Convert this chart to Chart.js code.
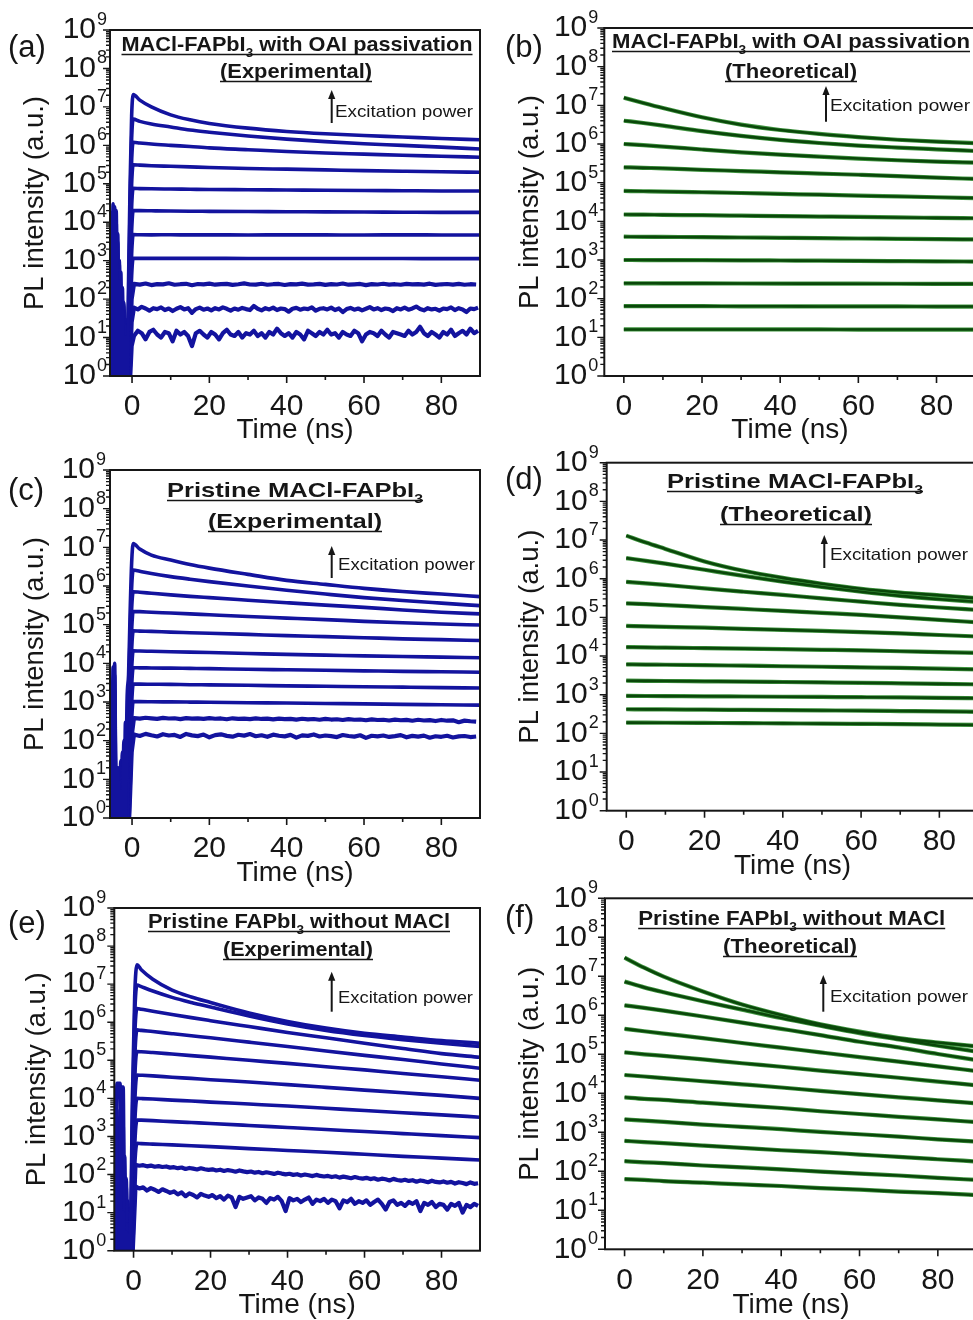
<!DOCTYPE html>
<html>
<head>
<meta charset="utf-8">
<script src="https://cdn.jsdelivr.net/npm/chart.js@4.4.1/dist/chart.umd.min.js"></script>
<style>
  html, body { margin: 0; padding: 0; background: #fff; overflow: hidden; }
  #figure { position: relative; width: 973px; height: 1320px; overflow: hidden; }
  #figure canvas { position: absolute; }
</style>
</head>
<body>
<div id="figure">
  <canvas id="panelA" width="490" height="450" style="left:0;top:0"></canvas>
  <canvas id="panelB" width="500" height="450" style="left:490px;top:0"></canvas>
  <canvas id="panelC" width="490" height="460" style="left:0;top:440px"></canvas>
  <canvas id="panelD" width="500" height="460" style="left:490px;top:440px"></canvas>
  <canvas id="panelE" width="490" height="440" style="left:0;top:880px"></canvas>
  <canvas id="panelF" width="500" height="440" style="left:490px;top:880px"></canvas>
</div>
<script>
// Axis ticks
const xTickValues = [0, 20, 40, 60, 80];
const yTickExponents = [0, 1, 2, 3, 4, 5, 6, 7, 8, 9];

// Time grids (ns)
const preTimesAC = [-5.7, -5.3, -4.9, -4.5, -4.1, -3.7, -3.3, -2.9, -2.5, -2.1, -1.7, -1.3, -0.9, -0.5, -0.1];
const preTimesE = [-5.5, -5.1, -4.7, -4.3, -3.9, -3.5, -3.1, -2.7, -2.3, -1.9, -1.5, -1.1, -0.7, -0.3, 0.3];
const decayTimesAC = [0.3, 2, 5, 10, 15, 20, 30, 40, 50, 60, 70, 80, 90];
const decayTimesE = [0.9, 2, 5, 10, 15, 20, 30, 40, 50, 60, 70, 80, 90];
const noiseTimes = Array.from({length: 60}, (_, i) => 0.5 + 1.5 * i);   // coarse sampling grid
const fineNoiseTimes = Array.from({length: 90}, (_, i) => 0.5 + i);     // 1 ns sampling grid
const theoryTimes = [0, 5, 10, 20, 30, 40, 50, 60, 70, 80, 90];

// (a) MACl-FAPbI3 with OAI passivation, experimental
const aPre = [
  [2e4, 0.5, 3e4, 0.4, 1e4, 0.5, 300, 0.4, 50, 0.5, 10, 0.6, 300, 1e5, 6e6],
  [0.5, 1e4, 0.4, 2.5e4, 0.5, 5e3, 0.4, 100, 0.5, 30, 0.4, 5, 80, 3e4, 1.5e6],
  [5e3, 0.4, 1.5e4, 0.5, 2e4, 0.4, 1e3, 0.5, 200, 0.4, 20, 0.5, 30, 1e4, 4e5],
  [0.4, 3e3, 0.5, 1e4, 0.4, 3e3, 0.5, 500, 0.4, 80, 0.5, 3, 10, 3e3, 1e5],
  [1e3, 0.5, 5e3, 0.4, 6e3, 0.5, 800, 0.4, 100, 0.5, 30, 0.4, 5, 800, 2.5e4],
  [0.5, 500, 0.4, 2e3, 0.5, 1e3, 0.4, 200, 0.5, 50, 0.4, 2, 2, 250, 6e3],
  [200, 0.4, 800, 0.5, 1e3, 0.4, 100, 0.5, 40, 0.4, 10, 0.5, 1, 70, 1.5e3],
  [0.4, 50, 0.5, 300, 0.4, 200, 0.5, 30, 0.4, 10, 0.5, 0.4, 0.6, 20, 400],
  [20, 0.5, 100, 0.4, 80, 0.5, 20, 0.4, 8, 0.5, 3, 0.4, 0.5, 6, 100],
  [0.5, 10, 0.4, 30, 0.5, 15, 0.4, 5, 0.5, 2, 0.4, 0.5, 0.4, 2, 25],
  [3, 0.4, 8, 0.5, 5, 0.4, 2, 0.5, 1, 0.4, 0.5, 0.4, 0.5, 0.8, 6]
];
const aDecay = [
  [2.1e7, 1.5e7, 1.0e7, 6.2e6, 4.6e6, 3.7e6, 2.8e6, 2.3e6, 2.0e6, 1.8e6, 1.65e6, 1.5e6, 1.4e6],
  [4.8e6, 4.2e6, 3.6e6, 3.0e6, 2.5e6, 2.2e6, 1.75e6, 1.45e6, 1.25e6, 1.1e6, 1.0e6, 9.0e5, 8.0e5],
  [1.2e6, 1.15e6, 1.08e6, 1.0e6, 9.3e5, 8.6e5, 7.7e5, 6.9e5, 6.3e5, 5.9e5, 5.5e5, 5.2e5, 4.9e5],
  [3.1e5, 3.05e5, 2.95e5, 2.85e5, 2.75e5, 2.65e5, 2.5e5, 2.4e5, 2.3e5, 2.2e5, 2.12e5, 2.05e5, 2.0e5],
  [7.6e4, 7.5e4, 7.4e4, 7.3e4, 7.2e4, 7.1e4, 7.0e4, 6.9e4, 6.8e4, 6.7e4, 6.6e4, 6.5e4, 6.5e4],
  [2.0e4, 2.0e4, 1.98e4, 1.95e4, 1.93e4, 1.92e4, 1.9e4, 1.88e4, 1.86e4, 1.84e4, 1.82e4, 1.8e4, 1.8e4],
  [4.75e3, 4.72e3, 4.7e3, 4.72e3, 4.68e3, 4.7e3, 4.66e3, 4.7e3, 4.68e3, 4.65e3, 4.7e3, 4.67e3, 4.66e3],
  [1150, 1150, 1150, 1148, 1146, 1145, 1142, 1140, 1138, 1136, 1134, 1132, 1130]
];
const aNoise = [
  [250, 238, 255, 232, 246, 241, 258, 236, 244, 250,
   230, 247, 242, 253, 237, 245, 249, 234, 243, 256,
   240, 238, 251, 236, 244, 248, 233, 246, 241, 252,
   239, 243, 250, 235, 245, 240, 254, 237, 242, 248,
   231, 246, 240, 251, 238, 244, 236, 249, 241, 245,
   239, 252, 234, 243, 247, 238, 250, 236, 244, 240],
  [60, 54, 63, 57, 50, 58, 55, 61, 52, 57,
   49, 56, 62, 54, 58, 44, 55, 60, 53, 57,
   51, 58, 54, 61, 56, 50, 57, 53, 59, 55,
   52, 66, 56, 51, 58, 54, 60, 52, 57, 55,
   47, 56, 59, 53, 57, 55, 61, 50, 56, 58,
   54, 60, 52, 57, 46, 55, 59, 53, 57, 51,
   56, 62, 54, 58, 52, 57, 55, 49, 58, 54,
   60, 53, 57, 64, 55, 51, 58, 54, 56, 50,
   57, 55, 61, 52, 58, 54, 46, 57, 55, 60],
  [11, 15, 13, 9, 14, 16, 12, 10, 14, 13,
   8, 15, 12, 14, 11, 6, 13, 15, 12, 10,
   14, 12, 9, 13, 16, 12, 11, 14, 10, 13,
   12, 15, 11, 13, 10, 14, 12, 17, 13, 11,
   13, 10, 14, 12, 9, 15, 13, 11, 14, 12,
   16, 12, 13, 10, 14, 12, 11, 15, 13, 8,
   12, 14, 13, 11, 15, 12, 10, 14, 13, 12,
   11, 15, 12, 14, 19, 13, 11, 14, 12, 10,
   14, 12, 16, 11, 13, 15, 12, 17, 13, 15]
];

// (b) MACl-FAPbI3 with OAI passivation, theoretical
const bTheory = [
  [1.58e7, 1.15e7, 8.5e6, 4.9e6, 3.16e6, 2.3e6, 1.82e6, 1.51e6, 1.29e6, 1.15e6, 1.05e6],
  [4.0e6, 3.5e6, 3.0e6, 2.15e6, 1.62e6, 1.28e6, 1.06e6, 9.1e5, 8.1e5, 7.3e5, 6.6e5],
  [1.0e6, 9.3e5, 8.6e5, 7.2e5, 6.1e5, 5.3e5, 4.7e5, 4.2e5, 3.8e5, 3.5e5, 3.3e5],
  [2.5e5, 2.42e5, 2.35e5, 2.15e5, 2.0e5, 1.85e5, 1.72e5, 1.6e5, 1.48e5, 1.35e5, 1.25e5],
  [6.1e4, 6.0e4, 5.9e4, 5.65e4, 5.4e4, 5.1e4, 4.9e4, 4.6e4, 4.4e4, 4.2e4, 4.0e4],
  [1.5e4, 1.49e4, 1.47e4, 1.44e4, 1.4e4, 1.36e4, 1.33e4, 1.3e4, 1.26e4, 1.23e4, 1.2e4],
  [4.0e3, 3.98e3, 3.95e3, 3.9e3, 3.82e3, 3.75e3, 3.68e3, 3.6e3, 3.53e3, 3.46e3, 3.4e3],
  [1000, 998, 995, 988, 980, 970, 960, 948, 935, 922, 910],
  [250, 250, 249, 248, 247, 246, 245, 244, 243, 242, 241],
  [64, 64, 64, 64, 63.5, 63.5, 63, 63, 63, 62.5, 62.5],
  [16, 16, 16, 16, 16, 16, 16, 15.9, 15.9, 15.9, 15.9]
];

// (c) Pristine MACl-FAPbI3, experimental
const cPre = [
  [0.5, 3, 0.4, 1e4, 0.5, 20, 0.4, 5, 0.5, 50, 0.4, 1e3, 5e3, 2e5, 4e6],
  [2, 0.4, 8e3, 0.5, 10, 0.4, 8, 0.5, 20, 0.4, 300, 0.5, 1e3, 5e4, 9e5],
  [0.4, 1, 0.5, 5e3, 0.4, 8, 0.5, 10, 0.4, 100, 0.5, 200, 300, 1.5e4, 2.5e5],
  [1, 0.5, 3e3, 0.4, 5, 0.5, 20, 0.4, 50, 0.5, 80, 0.4, 100, 4e3, 7e4],
  [0.5, 1, 0.4, 2e3, 0.5, 10, 0.4, 30, 0.5, 40, 0.4, 30, 40, 1.5e3, 2.2e4],
  [0.8, 0.4, 1e3, 0.5, 3, 0.4, 15, 0.5, 20, 0.4, 15, 0.5, 15, 500, 7e3],
  [0.4, 0.6, 0.5, 500, 0.4, 5, 0.5, 10, 0.4, 8, 0.5, 5, 6, 150, 2.5e3],
  [0.5, 0.4, 200, 0.5, 2, 0.4, 5, 0.5, 4, 0.4, 3, 0.5, 2, 60, 900],
  [0.4, 0.5, 0.4, 100, 0.5, 3, 0.4, 2, 0.5, 2, 0.4, 1, 1, 25, 350],
  [0.5, 0.4, 80, 0.4, 1, 0.5, 1.5, 0.4, 1, 0.5, 0.8, 0.4, 0.6, 10, 130],
  [0.4, 0.5, 0.4, 100, 0.5, 0.6, 0.4, 0.8, 0.5, 0.6, 0.4, 0.5, 0.4, 4, 50]
];
const cDecay = [
  [1.25e7, 9e6, 6.3e6, 4.7e6, 3.6e6, 2.9e6, 2.0e6, 1.4e6, 1.1e6, 8.7e5, 7.2e5, 6.2e5, 5.3e5],
  [2.6e6, 2.4e6, 2.1e6, 1.75e6, 1.5e6, 1.3e6, 1.0e6, 7.8e5, 6.2e5, 5.0e5, 4.2e5, 3.6e5, 3.1e5],
  [7.1e5, 6.9e5, 6.5e5, 5.9e5, 5.4e5, 5.0e5, 4.3e5, 3.7e5, 3.2e5, 2.8e5, 2.4e5, 2.1e5, 1.9e5],
  [2.2e5, 2.17e5, 2.1e5, 2.0e5, 1.9e5, 1.8e5, 1.62e5, 1.48e5, 1.35e5, 1.22e5, 1.12e5, 1.04e5, 9.8e4],
  [6.9e4, 6.8e4, 6.7e4, 6.4e4, 6.2e4, 6.0e4, 5.6e4, 5.2e4, 4.9e4, 4.6e4, 4.3e4, 4.1e4, 3.9e4],
  [2.1e4, 2.08e4, 2.05e4, 2.0e4, 1.95e4, 1.9e4, 1.8e4, 1.7e4, 1.63e4, 1.56e4, 1.5e4, 1.45e4, 1.4e4],
  [7.7e3, 7.65e3, 7.6e3, 7.5e3, 7.4e3, 7.3e3, 7.0e3, 6.8e3, 6.6e3, 6.4e3, 6.2e3, 6.05e3, 5.9e3],
  [2900, 2900, 2880, 2850, 2800, 2770, 2700, 2620, 2550, 2480, 2420, 2360, 2300],
  [1020, 1020, 1015, 1005, 995, 985, 960, 940, 915, 895, 870, 850, 830]
];
const cNoise = [
  [385, 370, 392, 378, 365, 388, 374, 380, 360, 383,
   371, 377, 366, 384, 369, 375, 358, 379, 368, 372,
   361, 376, 364, 370, 355, 373, 362, 367, 350, 369,
   357, 363, 348, 365, 352, 358, 343, 360, 347, 353,
   338, 356, 342, 348, 333, 351, 337, 344, 328, 347,
   332, 340, 322, 343, 328, 335, 300, 330, 318, 310],
  [145, 132, 150, 138, 128, 147, 136, 141, 125, 149,
   137, 131, 144, 122, 139, 146, 133, 127, 142, 135,
   148, 130, 138, 126, 143, 134, 129, 141, 120, 137,
   133, 145, 128, 136, 131, 124, 140, 132, 127, 138,
   118, 134, 129, 136, 125, 131, 139, 122, 133, 127,
   135, 119, 130, 126, 134, 121, 129, 132, 124, 128]
];

// (d) Pristine MACl-FAPbI3, theoretical
const dTheory = [
  [1.3e7, 8.6e6, 5.9e6, 2.8e6, 1.6e6, 1.05e6, 7.4e5, 5.5e5, 4.4e5, 3.7e5, 3.1e5],
  [3.4e6, 2.9e6, 2.45e6, 1.7e6, 1.18e6, 8.4e5, 6.1e5, 4.6e5, 3.6e5, 2.95e5, 2.5e5],
  [8.3e5, 7.6e5, 6.9e5, 5.6e5, 4.6e5, 3.8e5, 3.1e5, 2.55e5, 2.1e5, 1.8e5, 1.55e5],
  [2.3e5, 2.2e5, 2.08e5, 1.85e5, 1.65e5, 1.47e5, 1.3e5, 1.16e5, 1.0e5, 8.6e4, 7.4e4],
  [6.0e4, 5.85e4, 5.7e4, 5.4e4, 5.05e4, 4.75e4, 4.45e4, 4.15e4, 3.85e4, 3.5e4, 3.2e4],
  [1.7e4, 1.67e4, 1.65e4, 1.6e4, 1.55e4, 1.5e4, 1.45e4, 1.4e4, 1.33e4, 1.26e4, 1.2e4],
  [6.1e3, 6.0e3, 5.95e3, 5.8e3, 5.62e3, 5.45e3, 5.28e3, 5.1e3, 4.93e3, 4.7e3, 4.5e3],
  [2300, 2280, 2260, 2220, 2180, 2130, 2080, 2030, 1970, 1910, 1850],
  [930, 925, 920, 910, 898, 886, 874, 862, 848, 830, 810],
  [420, 418, 415, 410, 404, 398, 392, 386, 378, 370, 360],
  [190, 189, 188, 186, 184, 181, 179, 176, 173, 169, 165]
];

// (e) Pristine FAPbI3 without MACl, experimental
const ePre = [
  [0.5, 2, 0.4, 2.5e4, 2.5e4, 2.5e4, 0.5, 10, 0.4, 3, 0.5, 2, 10, 1e4, 5e6],
  [1, 0.4, 5, 0.5, 0.4, 0.5, 2e4, 2e4, 0.5, 5, 0.4, 5, 5, 3e3, 1.5e6],
  [0.4, 3, 0.5, 1e3, 0.4, 5e3, 0.5, 2e3, 0.4, 50, 0.5, 1, 2, 1e3, 4e5],
  [2, 0.5, 10, 0.4, 3e3, 0.5, 1e3, 0.4, 300, 0.5, 10, 0.4, 1, 300, 1e5],
  [0.5, 5, 0.4, 300, 0.5, 1e3, 0.4, 100, 0.5, 80, 0.4, 2, 0.5, 100, 3e4],
  [3, 0.4, 50, 0.5, 300, 0.4, 200, 0.5, 50, 0.4, 20, 0.5, 0.4, 30, 7e3],
  [0.4, 10, 0.5, 100, 0.4, 80, 0.5, 30, 0.4, 10, 0.5, 0.4, 0.5, 10, 2e3],
  [5, 0.5, 30, 0.4, 40, 0.5, 20, 0.4, 8, 0.5, 3, 0.5, 0.4, 4, 550],
  [0.5, 8, 0.4, 15, 0.5, 10, 0.4, 5, 0.5, 2, 0.4, 0.5, 0.4, 2, 160],
  [2, 0.4, 5, 0.5, 4, 0.4, 2, 0.5, 1, 0.4, 0.5, 0.4, 0.5, 1, 50],
  [0.4, 1.5, 0.5, 2, 0.4, 1, 0.5, 0.8, 0.4, 0.5, 0.4, 0.5, 0.4, 0.6, 15]
];
const eDecay = [
  [3.2e7, 2.4e7, 1.35e7, 7.0e6, 4.6e6, 3.3e6, 1.75e6, 1.05e6, 7.0e5, 5.1e5, 4.1e5, 3.3e5, 2.8e5],
  [9.5e6, 8.6e6, 6.6e6, 4.5e6, 3.3e6, 2.5e6, 1.45e6, 9.0e5, 6.1e5, 4.5e5, 3.5e5, 2.8e5, 2.3e5],
  [2.3e6, 2.2e6, 1.95e6, 1.6e6, 1.32e6, 1.1e6, 7.7e5, 5.4e5, 3.9e5, 2.8e5, 2.05e5, 1.5e5, 1.2e5],
  [6.3e5, 6.1e5, 5.7e5, 5.0e5, 4.4e5, 3.9e5, 3.0e5, 2.3e5, 1.75e5, 1.35e5, 1.05e5, 8.0e4, 6.2e4],
  [1.7e5, 1.68e5, 1.6e5, 1.46e5, 1.33e5, 1.21e5, 1.0e5, 8.3e4, 6.8e4, 5.6e4, 4.5e4, 3.7e4, 3.0e4],
  [4.1e4, 4.05e4, 3.9e4, 3.6e4, 3.35e4, 3.1e4, 2.7e4, 2.3e4, 1.95e4, 1.65e4, 1.4e4, 1.2e4, 1.0e4],
  [1.0e4, 9.9e3, 9.6e3, 9.0e3, 8.5e3, 8.0e3, 7.1e3, 6.3e3, 5.5e3, 4.8e3, 4.2e3, 3.7e3, 3.2e3],
  [2700, 2680, 2600, 2450, 2320, 2200, 1950, 1720, 1520, 1350, 1190, 1050, 930],
  [660, 650, 630, 600, 570, 540, 480, 430, 385, 340, 300, 270, 240]
];
const eNoise = [
  [180, 170, 176, 164, 172, 160, 166, 158, 163, 152,
   156, 147, 153, 140, 149, 143, 136, 146, 138, 133,
   137, 128, 134, 124, 131, 126, 119, 128, 121, 116,
   120, 112, 117, 108, 115, 110, 104, 112, 106, 101,
   105, 98, 102, 94, 100, 96, 91, 98, 92, 89,
   92, 86, 90, 83, 88, 84, 80, 86, 81, 78,
   82, 76, 80, 73, 78, 75, 70, 77, 72, 69,
   73, 68, 71, 65, 70, 67, 63, 69, 64, 62,
   66, 61, 64, 58, 63, 60, 56, 62, 57, 59],
  [49, 43, 46, 38, 44, 40, 35, 41, 37, 33,
   36, 30, 34, 27, 32, 29, 25, 31, 28, 26,
   29, 24, 27, 22, 28, 25, 14, 26, 23, 25,
   27, 21, 25, 23, 18, 24, 22, 26, 20, 11,
   24, 21, 23, 19, 22, 25, 17, 22, 20, 23,
   18, 22, 20, 13, 21, 19, 23, 17, 20, 18,
   21, 16, 19, 22, 17, 12, 19, 21, 16, 18,
   15, 19, 17, 20, 11, 18, 16, 19, 14, 17,
   16, 12, 17, 15, 18, 10, 16, 14, 17, 15]
];

// (f) Pristine FAPbI3 without MACl, theoretical
const fTheory = [
  [3.0e7, 1.66e7, 9.8e6, 4.1e6, 1.9e6, 1.02e6, 5.9e5, 3.8e5, 2.6e5, 2.0e5, 1.6e5],
  [7.3e6, 5.2e6, 3.9e6, 2.3e6, 1.4e6, 8.5e5, 5.4e5, 3.5e5, 2.4e5, 1.66e5, 1.17e5],
  [1.8e6, 1.55e6, 1.32e6, 9.3e5, 6.5e5, 4.5e5, 3.1e5, 2.1e5, 1.5e5, 1.02e5, 7.1e4],
  [4.5e5, 3.9e5, 3.4e5, 2.6e5, 1.95e5, 1.48e5, 1.12e5, 8.5e4, 6.5e4, 4.9e4, 3.7e4],
  [1.12e5, 1.0e5, 9.1e4, 7.4e4, 5.9e4, 4.8e4, 3.8e4, 3.1e4, 2.5e4, 2.0e4, 1.6e4],
  [2.95e4, 2.7e4, 2.45e4, 2.04e4, 1.7e4, 1.41e4, 1.15e4, 9.5e3, 7.9e3, 6.6e3, 5.5e3],
  [7.9e3, 7.2e3, 6.8e3, 5.75e3, 4.9e3, 4.2e3, 3.47e3, 2.95e3, 2.5e3, 2.14e3, 1.82e3],
  [2140, 2000, 1860, 1580, 1380, 1200, 1020, 890, 776, 660, 575],
  [603, 562, 525, 457, 398, 347, 309, 269, 234, 204, 178],
  [182, 170, 162, 141, 126, 112, 98, 87, 78, 68, 60],
  [63, 60, 56, 51, 46, 42, 37, 34, 30, 27.5, 24.5]
];

const FONT = "'Liberation Sans', Arial, Helvetica, sans-serif";
const INK = '#161616';
const BLUE = '#13139e';
const GREEN_EDGE = '#3f943f';
const GREEN_CORE = '#0a470a';

const sub3 = text => [{text: text}, {text: '3', sub: true}];
const titleOAI = sub3('MACl-FAPbI').concat([{text: ' with OAI passivation'}]);
const titlePristine = sub3('Pristine MACl-FAPbI');
const titleNoMACl = sub3('Pristine FAPbI').concat([{text: ' without MACl'}]);


// Experimental traces: pre-trigger part, then the decay (smooth or noisy)
function experimentalDatasets(preTimes, preVals, decayTimes, decayVals, noiseVals) {
  return preVals.map((pre, i) => {
    const smooth = i < decayVals.length;
    let tail;
    if (smooth) {
      tail = decayTimes.map((t, j) => ({x: t, y: decayVals[i][j]}));
    } else {
      const vals = noiseVals[i - decayVals.length];
      const times = vals.length === fineNoiseTimes.length ? fineNoiseTimes : noiseTimes;
      tail = times.map((t, j) => ({x: t, y: vals[j]}));
    }
    return {
      data: preTimes.map((t, j) => ({x: t, y: pre[j]})).concat(tail),
      borderColor: BLUE,
      borderWidth: smooth ? 3.6 : 4.2,
      borderJoinStyle: 'round',
      pointRadius: 0,
      tension: 0,
      cubicInterpolationMode: smooth ? 'monotone' : 'default'
    };
  });
}

// Theoretical curves: dark core on top of a lighter green edge
function theoryDatasets(curves) {
  const sets = [];
  curves.forEach(vals => {
    const data = theoryTimes.map((t, j) => ({x: t, y: vals[j]}));
    sets.push({data: data, borderColor: GREEN_CORE, borderWidth: 2.6, pointRadius: 0, cubicInterpolationMode: 'monotone'});
  });
  curves.forEach(vals => {
    const data = theoryTimes.map((t, j) => ({x: t, y: vals[j]}));
    sets.push({data: data, borderColor: GREEN_EDGE, borderWidth: 4.2, pointRadius: 0, cubicInterpolationMode: 'monotone'});
  });
  return sets;
}


// Draw one title line with subscripts, fitted to the target width, underlined
function drawTitleLine(ctx, parts, cx, baseline, size, targetW) {
  const big = 'bold ' + size + 'px ' + FONT;
  const small = 'bold ' + Math.round(size * 0.62) + 'px ' + FONT;
  let w = 0;
  parts.forEach(p => { ctx.font = p.sub ? small : big; w += ctx.measureText(p.text).width; });
  ctx.save();
  ctx.translate(cx - targetW / 2, baseline);
  ctx.scale(targetW / w, 1);
  ctx.fillStyle = INK;
  ctx.textAlign = 'left';
  ctx.textBaseline = 'alphabetic';
  let x = 0;
  parts.forEach(p => {
    ctx.font = p.sub ? small : big;
    ctx.fillText(p.text, x, p.sub ? size * 0.3 : 0);
    x += ctx.measureText(p.text).width;
  });
  ctx.strokeStyle = INK;
  ctx.lineWidth = 1.6;
  ctx.beginPath();
  ctx.moveTo(0, 3.5);
  ctx.lineTo(w, 3.5);
  ctx.stroke();
  ctx.restore();
}


// Frame, tick marks, exponents, y title and annotations
const framePlugin = {
  id: 'frame',
  afterDraw(chart, args, o) {
    const ctx = chart.ctx;
    const a = chart.chartArea;
    const xs = chart.scales.x;
    const ys = chart.scales.y;
    ctx.save();
    ctx.strokeStyle = INK;
    ctx.fillStyle = INK;

    // Box
    ctx.lineWidth = 2;
    ctx.strokeRect(a.left, a.top, a.right - a.left, a.bottom - a.top);

    // Y ticks (outward), minor ones in each decade
    ctx.lineWidth = 1.4;
    ctx.beginPath();
    yTickExponents.forEach(e => {
      const py = ys.getPixelForValue(10 ** e);
      ctx.moveTo(a.left - 7, py);
      ctx.lineTo(a.left, py);
      if (e < 9) {
        for (let k = 2; k <= 9; k++) {
          const pm = ys.getPixelForValue(k * 10 ** e);
          ctx.moveTo(a.left - 4, pm);
          ctx.lineTo(a.left, pm);
        }
      }
    });
    ctx.stroke();

    // X ticks (outward)
    ctx.lineWidth = 1.6;
    ctx.beginPath();
    [0, 10, 20, 30, 40, 50, 60, 70, 80].forEach(v => {
      const px = xs.getPixelForValue(v);
      const len = v % 20 === 0 ? 7 : 4;
      ctx.moveTo(px, a.bottom);
      ctx.lineTo(px, a.bottom + len);
    });
    ctx.stroke();

    // Exponents of the 10^n labels
    ctx.font = '18px ' + FONT;
    ctx.textAlign = 'left';
    ctx.textBaseline = 'alphabetic';
    yTickExponents.forEach(e => {
      const py = ys.getPixelForValue(10 ** e);
      ctx.fillText(String(e), a.left - o.tickPad + 1, py - 5);
    });

    // Y axis title
    ctx.save();
    ctx.translate(o.yTitleX, (a.top + a.bottom) / 2);
    ctx.rotate(-Math.PI / 2);
    ctx.font = '27.5px ' + FONT;
    ctx.textAlign = 'center';
    ctx.textBaseline = 'middle';
    ctx.fillText('PL intensity (a.u.)', 0, 0);
    ctx.restore();

    // Panel letter
    ctx.font = '31px ' + FONT;
    ctx.textAlign = 'left';
    ctx.textBaseline = 'alphabetic';
    ctx.fillText(o.letter.text, o.letter.x, o.letter.y);

    // Titles
    o.titles.forEach(t => drawTitleLine(ctx, t.parts, t.cx, t.y, 21, t.w));

    // Excitation power arrow and label
    ctx.lineWidth = 2;
    ctx.beginPath();
    ctx.moveTo(o.arrow.x, o.arrow.y0);
    ctx.lineTo(o.arrow.x, o.arrow.y1 + 6);
    ctx.stroke();
    ctx.beginPath();
    ctx.moveTo(o.arrow.x, o.arrow.y1);
    ctx.lineTo(o.arrow.x - 3.6, o.arrow.y1 + 9);
    ctx.lineTo(o.arrow.x + 3.6, o.arrow.y1 + 9);
    ctx.closePath();
    ctx.fill();
    ctx.save();
    ctx.font = '16.5px ' + FONT;
    const ew = ctx.measureText('Excitation power').width;
    ctx.translate(o.exc.x, o.exc.y);
    ctx.scale(o.exc.w / ew, 1);
    ctx.fillText('Excitation power', 0, 0);
    ctx.restore();

    ctx.restore();
  }
};


// Remove the label overhang padding so the plot box sits where it should
function noOverhang(s) {
  s.paddingTop = 0;
  s.paddingBottom = 0;
  s.paddingLeft = 0;
  s.paddingRight = 0;
}

// Create one panel
function makePanel(p) {
  const canvas = document.getElementById(p.id);
  const W = canvas.width;
  const H = canvas.height;
  return new Chart(canvas, {
    type: 'line',
    data: {datasets: p.datasets},
    options: {
      responsive: false,
      animation: false,
      devicePixelRatio: 1,
      events: [],
      layout: {padding: {left: 0, top: p.area.t, right: W - p.area.r, bottom: 0}},
      plugins: {legend: {display: false}, tooltip: {enabled: false}, frame: p.frame},
      scales: {
        x: {
          type: 'linear',
          min: p.xMin,
          max: 90,
          grid: {display: false, drawTicks: false},
          border: {display: false},
          afterBuildTicks: s => { s.ticks = xTickValues.map(v => ({value: v})); },
          afterFit: s => { s.height = H - p.area.b; noOverhang(s); },
          ticks: {color: INK, padding: 13, font: {family: FONT, size: 30}, maxRotation: 0},
          title: {display: true, text: 'Time (ns)', color: INK, font: {family: FONT, size: 28, lineHeight: 1}, padding: {top: 0, bottom: p.xTitlePad}}
        },
        y: {
          type: 'logarithmic',
          min: 1,
          max: 1e9,
          grid: {display: false, drawTicks: false},
          border: {display: false},
          afterBuildTicks: s => { s.ticks = yTickExponents.map(e => ({value: 10 ** e})); },
          afterFit: s => { s.width = p.area.l; noOverhang(s); },
          ticks: {color: INK, padding: p.frame.tickPad, autoSkip: false, font: {family: FONT, size: 30}, callback: () => '10'},
          title: {display: false}
        }
      }
    },
    plugins: [framePlugin]
  });
}


makePanel({
  id: 'panelA', area: {l: 110, t: 30, r: 480, b: 376}, xMin: -5.7, xTitlePad: 6,
  datasets: experimentalDatasets(preTimesAC, aPre, decayTimesAC, aDecay, aNoise),
  frame: {
    tickPad: 14, yTitleX: 35, letter: {text: '(a)', x: 8, y: 57},
    titles: [{parts: titleOAI, cx: 297, y: 51, w: 351}, {parts: [{text: '(Experimental)'}], cx: 296, y: 78, w: 152}],
    arrow: {x: 331.7, y0: 123, y1: 90}, exc: {x: 335, y: 116.5, w: 138}
  }
});

makePanel({
  id: 'panelB', area: {l: 114.3, t: 28, r: 485.6, b: 376}, xMin: -5, xTitlePad: 6,
  datasets: theoryDatasets(bTheory),
  frame: {
    tickPad: 17, yTitleX: 40, letter: {text: '(b)', x: 15, y: 57},
    titles: [{parts: titleOAI, cx: 301, y: 48, w: 358}, {parts: [{text: '(Theoretical)'}], cx: 301, y: 78, w: 132}],
    arrow: {x: 336, y0: 121.7, y1: 86}, exc: {x: 340, y: 111, w: 140}
  }
});

makePanel({
  id: 'panelC', area: {l: 110, t: 30, r: 480, b: 378}, xMin: -5.7, xTitlePad: 13,
  datasets: experimentalDatasets(preTimesAC, cPre, decayTimesAC, cDecay, cNoise),
  frame: {
    tickPad: 15, yTitleX: 35, letter: {text: '(c)', x: 8, y: 60},
    titles: [{parts: titlePristine, cx: 295, y: 57, w: 256}, {parts: [{text: '(Experimental)'}], cx: 295, y: 88, w: 174}],
    arrow: {x: 331.7, y0: 138, y1: 106}, exc: {x: 338, y: 130, w: 137}
  }
});

makePanel({
  id: 'panelD', area: {l: 116.7, t: 22.7, r: 488.5, b: 370.7}, xMin: -5, xTitlePad: 20,
  datasets: theoryDatasets(dTheory),
  frame: {
    tickPad: 19, yTitleX: 40, letter: {text: '(d)', x: 15, y: 49},
    titles: [{parts: titlePristine, cx: 305, y: 48, w: 256}, {parts: [{text: '(Theoretical)'}], cx: 306, y: 81, w: 152}],
    arrow: {x: 334.3, y0: 128, y1: 95}, exc: {x: 340, y: 120, w: 138}
  }
});

makePanel({
  id: 'panelE', area: {l: 114.3, t: 28, r: 480, b: 370.7}, xMin: -5, xTitlePad: 1,
  datasets: experimentalDatasets(preTimesE, ePre, decayTimesE, eDecay, eNoise),
  frame: {
    tickPad: 19, yTitleX: 37, letter: {text: '(e)', x: 8, y: 53},
    titles: [{parts: titleNoMACl, cx: 299, y: 48, w: 302}, {parts: [{text: '(Experimental)'}], cx: 298, y: 76, w: 150}],
    arrow: {x: 331.7, y0: 131.7, y1: 91.7}, exc: {x: 338, y: 123.3, w: 135}
  }
});

makePanel({
  id: 'panelF', area: {l: 115, t: 18.3, r: 487, b: 369.3}, xMin: -5, xTitlePad: 1,
  datasets: theoryDatasets(fTheory),
  frame: {
    tickPad: 18, yTitleX: 40, letter: {text: '(f)', x: 15, y: 47},
    titles: [{parts: titleNoMACl, cx: 301.7, y: 45, w: 307}, {parts: [{text: '(Theoretical)'}], cx: 300, y: 73, w: 134}],
    arrow: {x: 333.3, y0: 131.7, y1: 95}, exc: {x: 340, y: 121.7, w: 138}
  }
});
</script>
</body>
</html>
